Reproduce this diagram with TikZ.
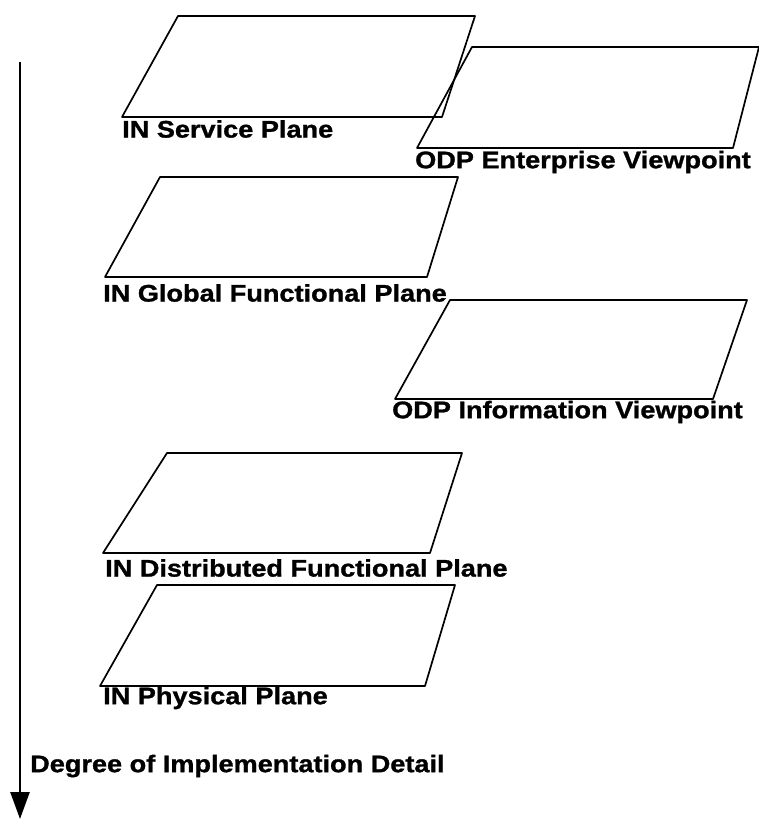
\documentclass[tikz,border=0pt]{standalone}
\usepackage{fontspec}
\setmainfont{Liberation Sans}[FakeStretch=1.13,FakeBold=1.2]
\usepackage{tikz}
\usetikzlibrary{arrows.meta}
\tikzset{
  plane/.style={draw=black,line width=1.7pt,line join=round},
  lbl/.style={anchor=west,inner sep=0pt,font=\fontsize{24}{26}\selectfont\bfseries},
  axis/.style={draw=black,line width=2.6pt,-{Triangle[length=27pt,width=19pt]}},
}

\begin{document}
\begin{tikzpicture}[x=1pt,y=-1pt]
\useasboundingbox (0,0) rectangle (759,820);
% service plane
\coordinate (s1) at (122,117);
\coordinate (s2) at (442,117);
\coordinate (s3) at (475,16);
\coordinate (s4) at (178,16);
% enterprise viewpoint
\coordinate (e1) at (417,148);
\coordinate (e2) at (733,148);
\coordinate (e3) at (759,47);
\coordinate (e4) at (472,47);
% global functional plane
\coordinate (g1) at (105,277);
\coordinate (g2) at (427,277);
\coordinate (g3) at (458,177);
\coordinate (g4) at (160,177);
% information viewpoint
\coordinate (i1) at (395,399);
\coordinate (i2) at (713,399);
\coordinate (i3) at (747,300);
\coordinate (i4) at (450,300);
% distributed functional plane
\coordinate (d1) at (103,553);
\coordinate (d2) at (430,553);
\coordinate (d3) at (462,453);
\coordinate (d4) at (167,453);
% physical plane
\coordinate (p1) at (100,686);
\coordinate (p2) at (425,686);
\coordinate (p3) at (455,585);
\coordinate (p4) at (157,585);
\draw[plane] (s1)--(s2)--(s3)--(s4)--cycle;
\draw[plane] (e1)--(e2)--(e3)--(e4)--cycle;
\draw[plane] (g1)--(g2)--(g3)--(g4)--cycle;
\draw[plane] (i1)--(i2)--(i3)--(i4)--cycle;
\draw[plane] (d1)--(d2)--(d3)--(d4)--cycle;
\draw[plane] (p1)--(p2)--(p3)--(p4)--cycle;
\node[lbl] (svc) at (122,129) {IN Service Plane};
\node[lbl] (ent) at (415,162) {ODP Enterprise Viewpoint};
\node[lbl] (glb) at (103,293) {IN Global Functional Plane};
\node[lbl] (inf) at (392,412) {ODP Information Viewpoint};
\node[lbl] (dst) at (105,568) {IN Distributed Functional Plane};
\node[lbl] (phy) at (103,698) {IN Physical Plane};
% detail axis
\coordinate (top) at (20,62);
\coordinate (bot) at (20,819);
\draw[axis] (top)--(bot);
\node[lbl] (deg) at (30,766) {Degree of Implementation Detail};
\end{tikzpicture}
\end{document}
